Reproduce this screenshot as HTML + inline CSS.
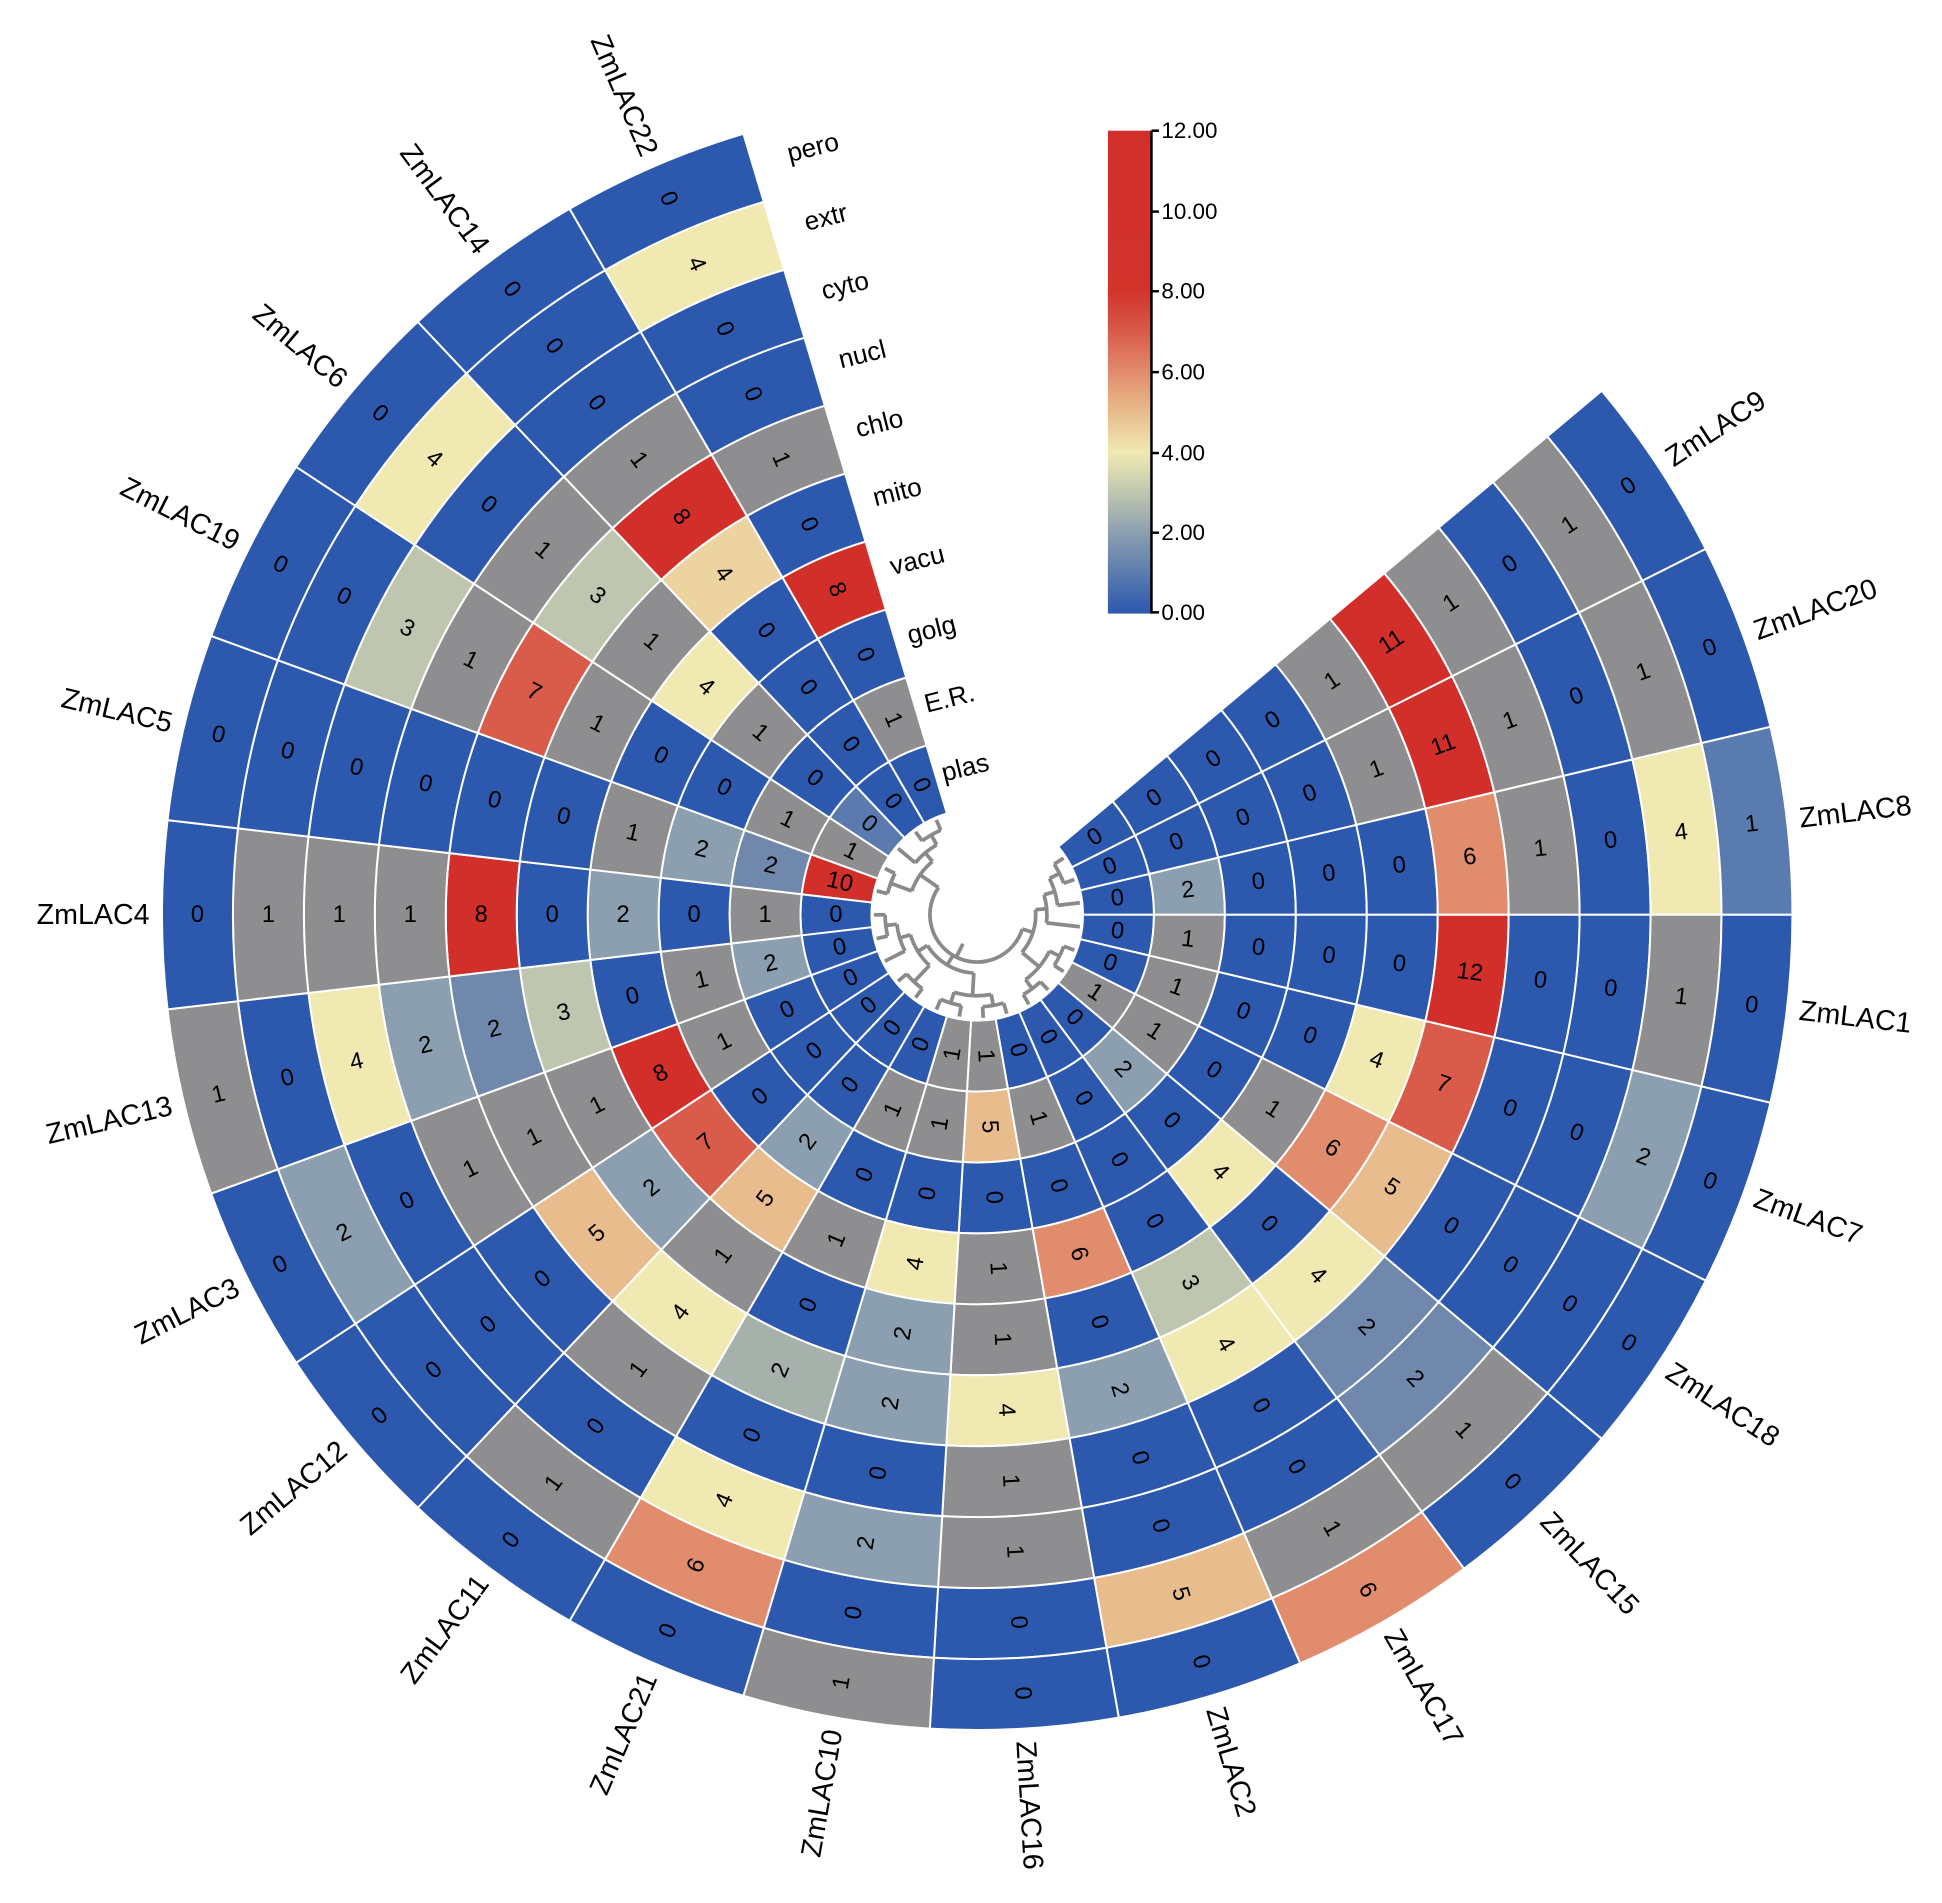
<!DOCTYPE html>
<html><head><meta charset="utf-8">
<style>
html,body{margin:0;padding:0;background:#fff;}
svg{display:block;}
text{font-family:"Liberation Sans",Arial,sans-serif;}
</style></head>
<body>
<svg id="s" width="1942" height="1903" viewBox="0 0 1560 1529" xmlns="http://www.w3.org/2000/svg">
<defs>
<linearGradient id="cb" x1="0" y1="1" x2="0" y2="0">
<stop offset="0" stop-color="#2c58ae"/>
<stop offset="0.1667" stop-color="#8b9fb0"/>
<stop offset="0.25" stop-color="#bfc6b0"/>
<stop offset="0.3333" stop-color="#f0e9b2"/>
<stop offset="0.4167" stop-color="#e8bc8c"/>
<stop offset="0.5" stop-color="#e18c6c"/>
<stop offset="0.5833" stop-color="#d95b4a"/>
<stop offset="0.6667" stop-color="#d2342c"/>
<stop offset="1" stop-color="#d22f2a"/>
</linearGradient>
</defs>
<g id="cells"></g>
<g id="tree"></g>
<g id="labels"></g>
<rect x="890" y="105" width="35" height="388" fill="url(#cb)"/>
<line x1="925" y1="105" x2="925" y2="493" stroke="#000" stroke-width="2"/>
<g stroke="#000" stroke-width="2">
<line x1="925" y1="105" x2="931" y2="105"/><line x1="925" y1="170" x2="931" y2="170"/>
<line x1="925" y1="234" x2="931" y2="234"/><line x1="925" y1="299" x2="931" y2="299"/>
<line x1="925" y1="364" x2="931" y2="364"/><line x1="925" y1="428" x2="931" y2="428"/>
<line x1="925" y1="492" x2="931" y2="492"/>
</g>
<g font-size="18" fill="#000">
<text x="933" y="111">12.00</text><text x="933" y="176">10.00</text>
<text x="933" y="240">8.00</text><text x="933" y="305">6.00</text>
<text x="933" y="370">4.00</text><text x="933" y="434">2.00</text>
<text x="933" y="498">0.00</text>
</g>
</svg>
<script>
var cx=785,cy=735,R0=85,W=57,S=360/27;
var genes=[["ZmLAC9",-3,[0,0,0,0,1,11,1,0,1,0]],["ZmLAC20",-2,[0,0,0,0,1,11,1,0,1,0]],["ZmLAC8",-1,[0,2,0,0,0,6,1,0,4,1]],
["ZmLAC1",0,[0,1,0,0,0,12,0,0,1,0]],["ZmLAC7",1,[0,1,0,0,4,7,0,0,2,0]],["ZmLAC18",2,[1,1,0,1,6,5,0,0,0,0]],
["ZmLAC15",3,[0,2,0,4,0,4,2,2,1,0]],["ZmLAC17",4,[0,0,0,0,3,4,0,0,1,6]],["ZmLAC2",5,[0,1,0,6,0,2,0,0,5,0]],
["ZmLAC16",6,[1,5,0,1,1,4,1,1,0,0]],["ZmLAC10",7,[1,1,0,4,2,2,0,2,0,1]],["ZmLAC21",8,[0,1,0,1,0,2,0,4,6,0]],
["ZmLAC11",9,[0,0,2,5,1,4,1,0,1,0]],["ZmLAC12",10,[0,0,0,7,2,5,0,0,0,0]],["ZmLAC3",11,[0,0,1,8,1,1,1,0,2,0]],
["ZmLAC13",12,[0,2,1,0,3,2,2,4,0,1]],["ZmLAC4",13,[0,1,0,2,0,8,1,1,1,0]],["ZmLAC5",14,[10,2,2,1,0,0,0,0,0,0]],
["ZmLAC19",15,[1,1,0,0,1,7,1,3,0,0]],["ZmLAC6",16,[0,0,1,4,1,3,1,0,4,0]],["ZmLAC14",17,[0,0,0,0,4,8,1,0,0,0]],
["ZmLAC22",18,[0,1,0,8,0,1,0,0,4,0]]];
var pal={0:"#2c58ae",1:"#8e8e90",2:"#8b9fb0",3:"#bfc6b0",4:"#f0e9b2",5:"#e8bc8c",6:"#e18c6c",7:"#d95b4a",8:"#d22f2a"};
var over={"ZmLAC8_9":"#5a7bb0","ZmLAC13_5":"#7088ab","ZmLAC15_6":"#7088ab","ZmLAC15_7":"#7088ab","ZmLAC5_1":"#7088ab","ZmLAC6_0":"#5b7bb0","ZmLAC14_4":"#edd3a0","ZmLAC21_5":"#a6b1ac","ZmLAC10_4":"#8b9fb0"};
function col(v){return v>=8?"#d22f2a":pal[v];}
function P(a,r){var t=a*Math.PI/180;return [cx+r*Math.cos(t),cy+r*Math.sin(t)];}
function f(p){return p[0].toFixed(2)+","+p[1].toFixed(2);}
var ns="http://www.w3.org/2000/svg";
function el(tag,at,par,txt){var e=document.createElementNS(ns,tag);for(var k in at)e.setAttribute(k,at[k]);if(txt!=null)e.textContent=txt;document.getElementById(par).appendChild(e);return e;}
genes.forEach(function(g){
  var a0=g[1]*S,a1=a0+S,am=a0+S/2;
  var rot=(Math.cos(am*Math.PI/180)>=0)?am:am-180;
  for(var k=0;k<10;k++){
    var ri=R0+k*W,ro=ri+W,v=g[2][k];
    var d="M"+f(P(a0,ro))+"A"+ro+","+ro+" 0 0 1 "+f(P(a1,ro))+"L"+f(P(a1,ri))+"A"+ri+","+ri+" 0 0 0 "+f(P(a0,ri))+"Z";
    el("path",{d:d,fill:over[g[0]+"_"+k]||col(v),stroke:"#fff","stroke-width":"1.6"},"cells");
    var c=P(am,ri+W/2);
    el("text",{x:c[0].toFixed(1),y:c[1].toFixed(1),"font-size":"19","text-anchor":"middle","dominant-baseline":"central",transform:"rotate("+rot.toFixed(2)+" "+c[0].toFixed(1)+" "+c[1].toFixed(1)+")"},"cells",String(v));
  }
  var right=Math.cos(am*Math.PI/180)>=0;
  var lp=P(am,R0+10*W+10);
  el("text",{x:lp[0].toFixed(1),y:lp[1].toFixed(1),"font-size":"23","text-anchor":right?"start":"end","dominant-baseline":"central",transform:"rotate("+rot.toFixed(2)+" "+lp[0].toFixed(1)+" "+lp[1].toFixed(1)+")"},"labels",g[0]);
});
var rn=["plas","E.R.","golg","vacu","mito","chlo","nucl","cyto","extr","pero"];
for(var k=0;k<10;k++){var a=256,p=P(a,R0+k*W+W/2+4);
 el("text",{x:p[0].toFixed(1),y:p[1].toFixed(1),"font-size":"21","dominant-baseline":"central",transform:"rotate("+(a-270)+" "+p[0].toFixed(1)+" "+p[1].toFixed(1)+")"},"labels",rn[k]);}
var T=[[[[[-3,-2],-1],0],[[1,2],[3,4]]],[[[5,6],[7,8]],[[9,10],[11,[12,13]]]],[[14,15],[16,[17,18]]]];
function build(n){
  if(typeof n==="number") return {a:n*S+S/2,r:83};
  var ch=n.map(build),mr=Math.min.apply(null,ch.map(function(c){return c.r;}))-9;
  var amin=Math.min.apply(null,ch.map(function(c){return c.a;})),amax=Math.max.apply(null,ch.map(function(c){return c.a;}));
  ch.forEach(function(c){el("path",{d:"M"+f(P(c.a,mr))+"L"+f(P(c.a,c.r)),stroke:"#8a8a8a","stroke-width":"3",fill:"none"},"tree");});
  var large=(amax-amin)>180?1:0;
  el("path",{d:"M"+f(P(amin,mr))+"A"+mr+","+mr+" 0 "+large+" 1 "+f(P(amax,mr)),stroke:"#8a8a8a","stroke-width":"3",fill:"none"},"tree");
  return {a:(amin+amax)/2,r:mr};
}
var root=build(T);
el("path",{d:"M"+f(P(root.a,root.r))+"L"+f(P(root.a,root.r-12)),stroke:"#8a8a8a","stroke-width":"3",fill:"none"},"tree");
</script>
</body></html>
